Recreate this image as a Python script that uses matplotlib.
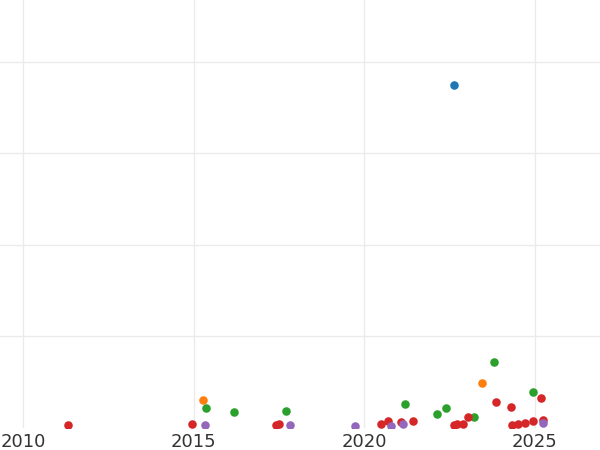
import matplotlib
matplotlib.use('Agg')
import matplotlib.pyplot as plt

# valores (ano, valor)
blue_x = [2022.65]
blue_y = [3.748]

orange_x = [2015.28, 2023.47]
orange_y = [0.298, 0.484]

green_x = [2015.37, 2016.20, 2017.72, 2021.21, 2022.15, 2022.41, 2023.22, 2023.80, 2024.96]
green_y = [0.214, 0.170, 0.181, 0.254, 0.151, 0.217, 0.112, 0.721, 0.392]

red_x = [2011.32, 2014.95, 2017.42, 2017.52, 2020.50, 2020.71, 2021.08, 2021.43,
         2022.64, 2022.72, 2022.91, 2023.05, 2023.88, 2024.30, 2024.33, 2024.52,
         2024.71, 2024.96, 2025.18, 2025.24]
red_y = [0.030, 0.040, 0.030, 0.038, 0.034, 0.066, 0.058, 0.066,
         0.030, 0.040, 0.038, 0.115, 0.276, 0.228, 0.026, 0.038,
         0.054, 0.070, 0.326, 0.080]

purple_x = [2015.33, 2017.82, 2019.73, 2020.78, 2021.15, 2025.26]
purple_y = [0.032, 0.030, 0.018, 0.020, 0.036, 0.048]

series = [
    (blue_x, blue_y, '#1f77b4'),
    (orange_x, orange_y, '#ff7f0e'),
    (green_x, green_y, '#2ca02c'),
    (red_x, red_y, '#d62728'),
    (purple_x, purple_y, '#9467bd'),
]

fig = plt.figure(figsize=(6, 4.5), dpi=100)
ax = fig.add_axes([0, 0.05, 1, 0.95])

for xs, ys, cor in series:
    ax.scatter(xs, ys, s=38, color=cor, linewidths=0, zorder=3)

ax.set_xlim(2009.325, 2026.92)
ax.set_ylim(0, 4.68)
ax.set_xticks([2010, 2015, 2020, 2025])
ax.set_yticks([1, 2, 3, 4])
ax.set_yticklabels([])
ax.grid(True, color='#ebebeb', linewidth=1, zorder=0)
for s in ax.spines.values():
    s.set_visible(False)
ax.tick_params(axis='both', length=0)
ax.tick_params(axis='x', labelsize=13, labelcolor='#333333', pad=4)

fig.savefig('out.png', dpi=100)
